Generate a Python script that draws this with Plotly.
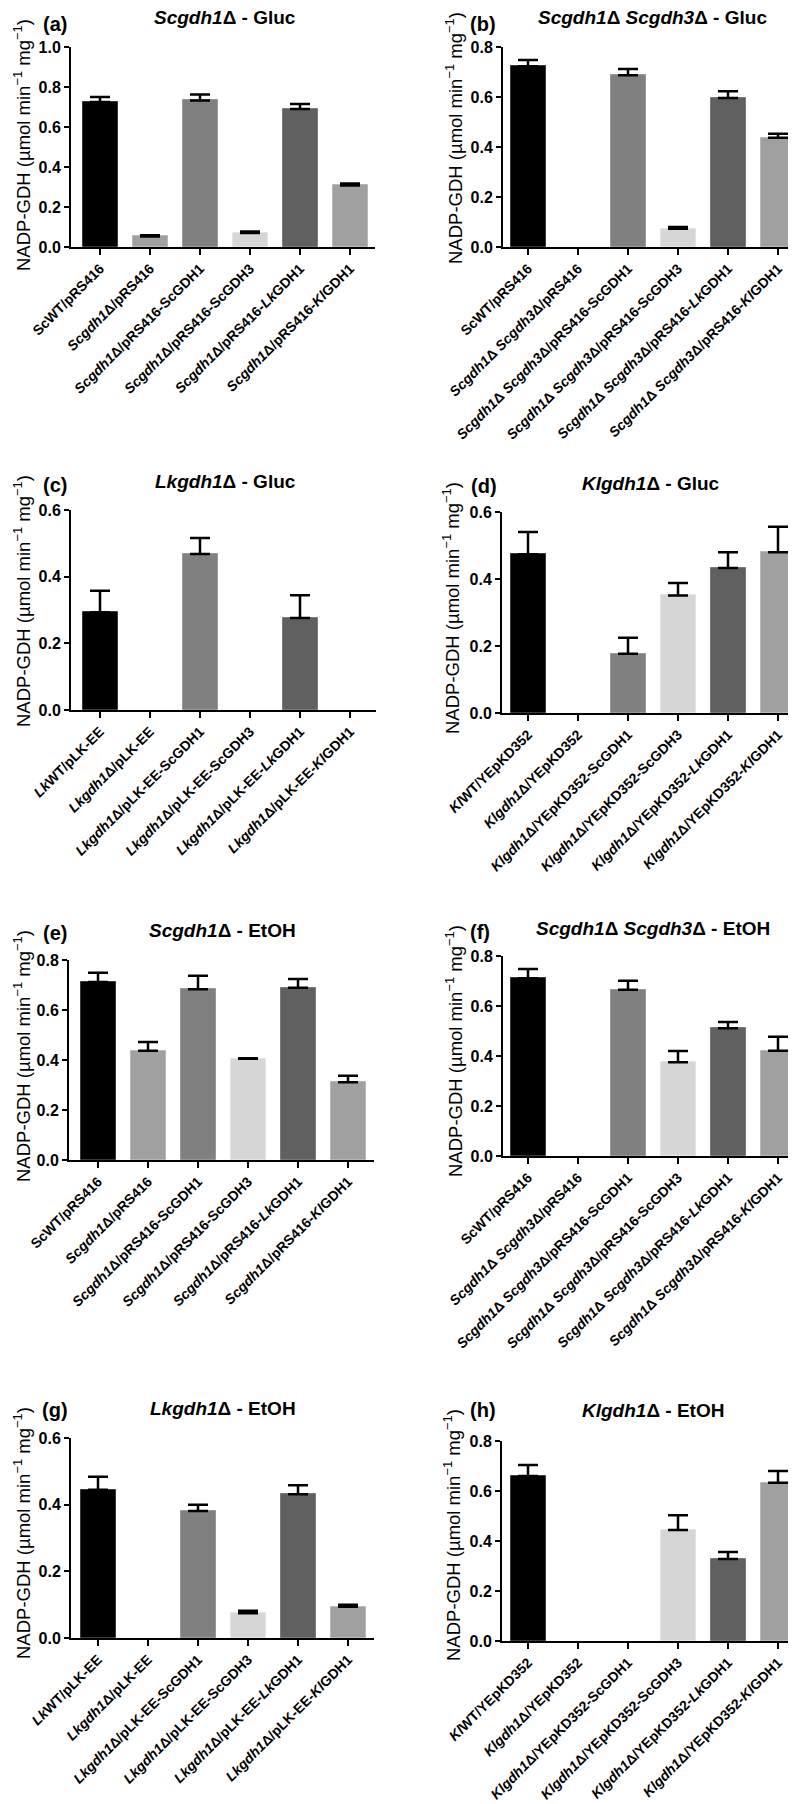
import plotly.graph_objects as go

W, H = 796, 1804

# ---------------- data ----------------
bar_colors = ["#000000", "#a0a0a0", "#808080", "#d6d6d6", "#606060", "#a0a0a0"]
edge_colors = ["#3a3a3a", "#b8b8b8", "#989898", "#e4e4e4", "#7a7a7a", "#b8b8b8"]

D = "Δ"
sc_labels = [
    "ScWT/pRS416",
    f"<i>Scgdh1</i>{D}/pRS416",
    f"<i>Scgdh1</i>{D}/pRS416-ScGDH1",
    f"<i>Scgdh1</i>{D}/pRS416-ScGDH3",
    f"<i>Scgdh1</i>{D}/pRS416-<i>Lk</i>GDH1",
    f"<i>Scgdh1</i>{D}/pRS416-<i>Kl</i>GDH1",
]
scsc_labels = [
    "ScWT/pRS416",
    f"<i>Scgdh1</i>{D} <i>Scgdh3</i>{D}/pRS416",
    f"<i>Scgdh1</i>{D} <i>Scgdh3</i>{D}/pRS416-ScGDH1",
    f"<i>Scgdh1</i>{D} <i>Scgdh3</i>{D}/pRS416-ScGDH3",
    f"<i>Scgdh1</i>{D} <i>Scgdh3</i>{D}/pRS416-<i>Lk</i>GDH1",
    f"<i>Scgdh1</i>{D} <i>Scgdh3</i>{D}/pRS416-<i>Kl</i>GDH1",
]
lk_labels = [
    "<i>Lk</i>WT/pLK-EE",
    f"<i>Lkgdh1</i>{D}/pLK-EE",
    f"<i>Lkgdh1</i>{D}/pLK-EE-ScGDH1",
    f"<i>Lkgdh1</i>{D}/pLK-EE-ScGDH3",
    f"<i>Lkgdh1</i>{D}/pLK-EE-<i>Lk</i>GDH1",
    f"<i>Lkgdh1</i>{D}/pLK-EE-<i>Kl</i>GDH1",
]
kl_labels = [
    "<i>Kl</i>WT/YEpKD352",
    f"<i>Klgdh1</i>{D}/YEpKD352",
    f"<i>Klgdh1</i>{D}/YEpKD352-ScGDH1",
    f"<i>Klgdh1</i>{D}/YEpKD352-ScGDH3",
    f"<i>Klgdh1</i>{D}/YEpKD352-<i>Lk</i>GDH1",
    f"<i>Klgdh1</i>{D}/YEpKD352-<i>Kl</i>GDH1",
]

a_vals = [0.725, 0.053, 0.733, 0.070, 0.690, 0.308]
a_errs = [0.025, 0.006, 0.029, 0.008, 0.025, 0.010]
b_vals = [0.723, 0.0, 0.687, 0.073, 0.596, 0.437]
b_errs = [0.025, 0.0, 0.025, 0.007, 0.027, 0.016]
c_vals = [0.293, 0.0, 0.468, 0.0, 0.276, 0.0]
c_errs = [0.065, 0.0, 0.048, 0.0, 0.068, 0.0]
d_vals = [0.474, 0.0, 0.177, 0.351, 0.433, 0.480]
d_errs = [0.066, 0.0, 0.048, 0.037, 0.047, 0.076]
e_vals = [0.712, 0.437, 0.683, 0.405, 0.689, 0.311]
e_errs = [0.037, 0.035, 0.054, 0.002, 0.035, 0.026]
f_vals = [0.711, 0.0, 0.665, 0.375, 0.511, 0.421]
f_errs = [0.037, 0.0, 0.036, 0.045, 0.025, 0.056]
g_vals = [0.445, 0.0, 0.381, 0.074, 0.431, 0.094]
g_errs = [0.039, 0.0, 0.019, 0.008, 0.027, 0.006]
h_vals = [0.660, 0.0, 0.0, 0.444, 0.328, 0.633]
h_errs = [0.044, 0.0, 0.0, 0.059, 0.028, 0.047]

titles = [
    f"<b><i>Scgdh1</i>{D} - Gluc</b>",
    f"<b><i>Scgdh1</i>{D} <i>Scgdh3</i>{D} - Gluc</b>",
    f"<b><i>Lkgdh1</i>{D} - Gluc</b>",
    f"<b><i>Klgdh1</i>{D} - Gluc</b>",
    f"<b><i>Scgdh1</i>{D} - EtOH</b>",
    f"<b><i>Scgdh1</i>{D} <i>Scgdh3</i>{D} - EtOH</b>",
    f"<b><i>Lkgdh1</i>{D} - EtOH</b>",
    f"<b><i>Klgdh1</i>{D} - EtOH</b>",
]
letters = ["(a)", "(b)", "(c)", "(d)", "(e)", "(f)", "(g)", "(h)"]
ymaxes = [1.0, 0.8, 0.6, 0.6, 0.8, 0.8, 0.6, 0.8]
ytitle = "NADP-GDH (µmol min<sup>−1</sup> mg<sup>−1</sup>)"

data = [
    (sc_labels, a_vals, a_errs),
    (scsc_labels, b_vals, b_errs),
    (lk_labels, c_vals, c_errs),
    (kl_labels, d_vals, d_errs),
    (sc_labels, e_vals, e_errs),
    (scsc_labels, f_vals, f_errs),
    (lk_labels, g_vals, g_errs),
    (kl_labels, h_vals, h_errs),
]

# ---------------- layout geometry (pixels) ----------------
# left, right, top(ymax), bottom(0), first bar center, title cx, title cy,
# letter cx, letter cy, ytitle cx, ytitle cy
geom = [
    (63, 367, 39, 239, 92, 217, 9, 47, 16, 14, 137),
    (495, 796, 39, 239, 520, 644, 9, 475, 16, 446, 130),
    (63, 368, 502, 702, 92, 217, 473, 47, 477, 14, 593),
    (494, 796, 504, 705, 520, 643, 475, 476, 478, 443, 600),
    (61, 366, 952, 1152, 90, 215, 923, 47, 925, 14, 1048),
    (495, 796, 948, 1148, 520, 645, 920, 472, 924, 446, 1043),
    (63, 366, 1430, 1630, 90, 215, 1400, 47, 1402, 14, 1525),
    (494, 796, 1433, 1633, 520, 645, 1402, 475, 1402, 444, 1527),
]
SPACING = 50.0
FONT = "Liberation Sans, Arial, sans-serif"

fig = go.Figure()
annotations = []
layout_axes = {}

for i, ((labels, vals, errs), g) in enumerate(zip(data, geom)):
    left, right, top, bottom, c0, tcx, tcy, lcx, lcy, ycx, ycy = g
    n = i + 1
    xa = "x" if n == 1 else f"x{n}"
    ya = "y" if n == 1 else f"y{n}"
    xs = list(range(len(vals)))
    # zero-activity strains: no bar and no error bar drawn
    ys = [v if v > 0 else None for v in vals]
    err_plus = [e if v > 0 else None for v, e in zip(vals, errs)]
    fig.add_trace(go.Bar(
        x=xs, y=ys, width=0.7, xaxis=xa, yaxis=ya,
        marker=dict(color=bar_colors, line=dict(color=edge_colors, width=1)),
        error_y=dict(type="data", symmetric=False, array=err_plus,
                     arrayminus=[0] * len(vals), color="black",
                     thickness=2.5, width=10),
        showlegend=False,
    ))
    xkey = "xaxis" if n == 1 else f"xaxis{n}"
    ykey = "yaxis" if n == 1 else f"yaxis{n}"
    layout_axes[xkey] = dict(
        domain=[left / W, right / W], automargin=False,
        range=[(left - c0) / SPACING, (right - c0) / SPACING],
        anchor=ya, tickmode="array", tickvals=xs, ticktext=labels,
        tickangle=-45, ticks="outside", ticklen=6, tickwidth=2,
        tickcolor="black", showline=True, linewidth=2, linecolor="black",
        showgrid=False, zeroline=False,
        tickfont=dict(family=FONT, size=14, color="black", weight="bold"),
    )
    layout_axes[ykey] = dict(
        domain=[1 - bottom / H, 1 - top / H], automargin=False,
        range=[0, ymaxes[i]], anchor=xa, tickmode="linear", tick0=0, dtick=0.2,
        tickformat=".1f", ticks="outside", ticklen=5, tickwidth=2,
        tickcolor="black", showline=True, linewidth=2, linecolor="black",
        showgrid=False, zeroline=False,
        tickfont=dict(family=FONT, size=16, color="black", weight="bold"),
    )
    annotations.append(dict(
        text=titles[i], x=tcx / W, y=1 - tcy / H, xref="paper", yref="paper",
        xanchor="center", yanchor="middle", showarrow=False,
        font=dict(family=FONT, size=19, color="black"),
    ))
    annotations.append(dict(
        text=f"<b>{letters[i]}</b>", x=lcx / W, y=1 - lcy / H, xref="paper", yref="paper",
        xanchor="center", yanchor="middle", showarrow=False,
        font=dict(family=FONT, size=20, color="black"),
    ))
    annotations.append(dict(
        text=ytitle, x=ycx / W, y=1 - ycy / H, xref="paper", yref="paper",
        xanchor="center", yanchor="middle", showarrow=False, textangle=-90,
        font=dict(family=FONT, size=18.5, color="black"),
    ))

fig.update_layout(
    template="none",
    width=W, height=H, margin=dict(l=0, r=0, t=0, b=0, autoexpand=False),
    paper_bgcolor="white", plot_bgcolor="white",
    annotations=annotations, bargap=0,
    **layout_axes,
)

fig.write_html("out.html")
